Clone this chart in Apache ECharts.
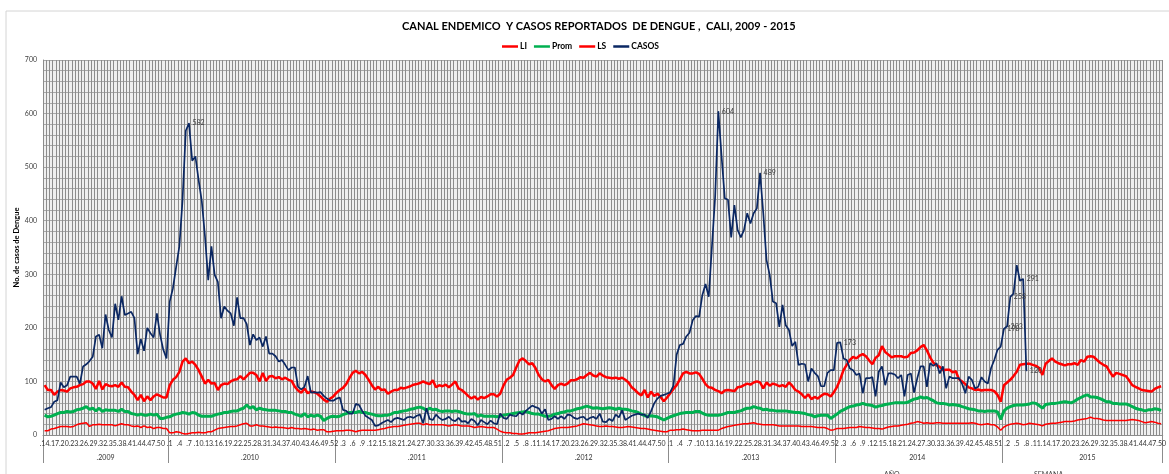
<!DOCTYPE html>
<html>
<head>
<meta charset="utf-8">
<script src="https://cdn.jsdelivr.net/npm/echarts@6/dist/echarts.min.js"></script>
<style>
  html, body { margin: 0; padding: 0; background: #fff; }
  #chart { width: 1169px; height: 474px; }
</style>
</head>
<body>
<div id="chart"></div>
<script>
// semanas epidemiologicas por año
const anios = [2009, 2010, 2011, 2012, 2013, 2014, 2015]
const semanaInicial = [14, 1, 1, 1, 1, 1, 1]
const semanaFinal = [52, 52, 52, 52, 52, 52, 50]
const etiquetasAnio = ['.2009', '.2010', '.2011', '.2012', '.2013', '2014', '2015']

// limite inferior
const li = [
  8, 8, 11, 12, 14, 16, 16, 16, 15, 16, 19, 21, 22, 23, 16, 19, 19, 20, 19, 19, 19, 19, 17, 19, 21, 19, 19, 17, 16, 17, 14, 17, 14, 15, 12, 14, 14, 12, 12,
  4, 4, 6, 5, 3, 2, 3, 4, 4, 5, 4, 4, 6, 6, 9, 12, 13, 14, 15, 16, 16, 17, 19, 21, 22, 17, 17, 19, 17, 17, 16, 15, 14, 15, 14, 14, 13, 12, 14, 12, 12, 11, 12, 11, 10, 11, 9, 10, 10, 6, 6, 7,
  8, 8, 8, 9, 9, 8, 6, 8, 9, 9, 9, 9, 9, 10, 11, 12, 14, 15, 16, 16, 17, 18, 19, 20, 21, 22, 22, 19, 21, 19, 19, 19, 19, 19, 18, 17, 18, 19, 18, 17, 17, 17, 16, 14, 15, 16, 15, 14, 14, 14, 11, 7,
  5, 4, 4, 3, 3, 2, 2, 3, 4, 4, 4, 5, 6, 7, 8, 10, 12, 13, 14, 14, 14, 15, 16, 17, 19, 21, 20, 19, 18, 17, 16, 16, 17, 16, 16, 15, 14, 14, 15, 16, 15, 14, 13, 12, 12, 11, 10, 9, 8, 7, 6, 6,
  9, 9, 10, 10, 11, 10, 9, 8, 8, 8, 9, 9, 9, 9, 9, 9, 12, 14, 16, 17, 18, 19, 20, 21, 21, 22, 23, 21, 20, 19, 19, 19, 19, 18, 17, 17, 17, 17, 17, 17, 17, 16, 16, 16, 16, 15, 14, 14, 14, 12, 9, 10,
  12, 12, 12, 13, 14, 14, 14, 16, 15, 14, 14, 13, 12, 12, 11, 13, 15, 16, 17, 17, 18, 19, 20, 22, 23, 25, 24, 22, 23, 22, 22, 23, 23, 22, 22, 22, 22, 22, 22, 22, 22, 22, 23, 22, 20, 19, 20, 21, 19, 19, 15, 9,
  15, 18, 20, 21, 22, 21, 19, 20, 22, 21, 20, 19, 17, 20, 21, 22, 22, 23, 24, 25, 25, 25, 26, 28, 29, 30, 31, 33, 31, 31, 30, 28, 27, 27, 27, 27, 27, 27, 27, 28, 29, 28, 27, 25, 23, 24, 25, 24, 22, 21
]

// promedio
const prom = [
  37, 34, 35, 37, 40, 42, 42, 44, 43, 44, 47, 48, 50, 53, 48, 50, 45, 50, 44, 47, 46, 46, 46, 44, 48, 44, 44, 40, 39, 37, 39, 37, 37, 39, 37, 39, 31, 31, 33,
  34, 37, 39, 40, 42, 41, 39, 42, 41, 37, 35, 35, 35, 35, 37, 39, 40, 42, 42, 44, 45, 45, 48, 50, 56, 50, 53, 47, 50, 48, 47, 46, 46, 46, 45, 44, 44, 42, 42, 39, 37, 35, 40, 34, 37, 35, 37, 35, 27, 31, 34, 35,
  34, 35, 38, 40, 42, 42, 42, 44, 42, 42, 40, 39, 37, 36, 36, 37, 37, 39, 42, 42, 44, 45, 46, 48, 49, 51, 52, 50, 46, 50, 47, 48, 45, 44, 45, 45, 44, 45, 44, 42, 40, 39, 39, 40, 35, 37, 35, 35, 35, 35, 34, 35,
  37, 38, 39, 40, 41, 42, 43, 44, 42, 40, 39, 39, 37, 35, 35, 36, 39, 40, 42, 43, 45, 45, 47, 49, 50, 52, 54, 52, 50, 51, 50, 49, 50, 51, 50, 48, 50, 48, 48, 47, 45, 44, 42, 39, 36, 35, 36, 35, 34, 31, 28, 31,
  34, 36, 38, 40, 41, 42, 42, 42, 44, 44, 41, 38, 37, 37, 37, 37, 38, 40, 42, 42, 42, 44, 45, 48, 50, 50, 53, 51, 50, 47, 48, 46, 46, 45, 45, 45, 45, 44, 43, 42, 42, 41, 40, 38, 37, 34, 36, 37, 37, 37, 31, 35,
  39, 44, 47, 50, 53, 54, 56, 57, 59, 57, 56, 55, 52, 54, 55, 57, 58, 59, 60, 60, 60, 60, 61, 64, 67, 68, 71, 69, 70, 67, 64, 60, 59, 59, 58, 56, 57, 56, 55, 53, 51, 49, 48, 47, 45, 45, 44, 45, 45, 45, 43, 29,
  45, 50, 53, 55, 56, 56, 56, 57, 58, 60, 59, 55, 50, 57, 58, 59, 59, 60, 61, 62, 61, 60, 63, 67, 70, 73, 75, 71, 71, 70, 68, 65, 62, 62, 59, 59, 58, 58, 58, 56, 53, 50, 48, 47, 45, 47, 47, 49, 48, 46
]

// limite superior
const ls = [
  93, 84, 84, 75, 81, 84, 83, 81, 87, 89, 90, 93, 95, 100, 100, 96, 86, 101, 85, 95, 92, 91, 93, 90, 98, 90, 89, 81, 75, 65, 75, 63, 72, 65, 72, 76, 73, 70, 70,
  93, 103, 108, 118, 137, 143, 134, 137, 131, 121, 109, 96, 103, 96, 97, 84, 93, 96, 95, 100, 103, 104, 110, 104, 110, 116, 116, 112, 100, 116, 101, 109, 110, 106, 108, 104, 107, 103, 101, 90, 83, 79, 87, 78, 81, 80, 77, 72, 66, 62, 68, 72,
  79, 84, 88, 95, 106, 116, 120, 115, 118, 112, 103, 93, 85, 90, 84, 85, 77, 81, 84, 84, 88, 87, 89, 91, 94, 95, 97, 100, 97, 95, 102, 89, 93, 91, 94, 89, 94, 100, 87, 84, 79, 73, 68, 72, 66, 71, 69, 72, 76, 76, 72, 77,
  92, 103, 107, 112, 126, 139, 143, 138, 132, 134, 125, 112, 104, 100, 103, 93, 86, 93, 96, 93, 96, 102, 102, 104, 108, 107, 112, 116, 111, 109, 115, 111, 108, 107, 106, 107, 105, 107, 103, 98, 89, 84, 78, 74, 84, 70, 81, 73, 77, 71, 63, 70,
  78, 86, 93, 104, 115, 118, 115, 115, 117, 114, 105, 95, 89, 88, 84, 82, 78, 83, 84, 83, 82, 89, 90, 93, 96, 94, 98, 100, 98, 87, 98, 92, 96, 94, 91, 93, 90, 98, 92, 84, 81, 76, 69, 76, 67, 71, 68, 73, 77, 76, 72, 80,
  90, 104, 121, 131, 140, 146, 143, 148, 151, 147, 139, 132, 144, 149, 166, 155, 150, 145, 147, 147, 147, 145, 146, 153, 154, 158, 164, 168, 158, 145, 135, 130, 127, 121, 122, 122, 117, 119, 104, 100, 95, 89, 87, 84, 85, 83, 84, 84, 84, 82, 75, 62,
  93, 98, 103, 110, 118, 131, 132, 133, 133, 131, 129, 125, 112, 133, 138, 143, 137, 134, 132, 130, 132, 132, 134, 131, 140, 137, 146, 147, 146, 140, 135, 131, 128, 118, 109, 116, 114, 112, 110, 102, 93, 90, 87, 84, 83, 82, 81, 86, 89, 91
]

// casos reportados (2015 hasta semana 8)
const casos = [
  47, 50, 52, 62, 65, 98, 89, 93, 109, 109, 109, 96, 128, 132, 138, 146, 184, 187, 162, 225, 196, 182, 245, 215, 259, 224, 227, 230, 218, 151, 179, 157, 200, 190, 182, 227, 187, 159, 143,
  249, 274, 314, 352, 439, 568, 582, 512, 520, 476, 436, 370, 289, 352, 299, 286, 218, 240, 232, 227, 204, 257, 218, 218, 207, 168, 188, 177, 182, 165, 184, 152, 152, 147, 137, 140, 131, 121, 126, 126, 90, 85, 90, 110, 79, 80, 79, 80, 73, 68, 64, 64,
  68, 70, 47, 45, 40, 40, 58, 56, 45, 36, 32, 28, 17, 18, 22, 25, 28, 24, 30, 32, 30, 28, 33, 34, 32, 36, 38, 22, 50, 30, 28, 38, 32, 28, 30, 34, 28, 26, 32, 25, 26, 22, 30, 26, 18, 28, 24, 20, 27, 22, 20, 40,
  32, 30, 38, 36, 35, 42, 38, 45, 50, 55, 52, 50, 40, 48, 28, 30, 35, 30, 35, 30, 38, 37, 32, 30, 33, 34, 28, 32, 34, 30, 40, 25, 24, 30, 26, 38, 33, 46, 28, 32, 36, 38, 40, 38, 38, 32, 44, 59, 68, 73, 75, 77,
  80, 92, 150, 168, 170, 184, 191, 214, 222, 221, 261, 282, 258, 352, 445, 604, 520, 442, 439, 369, 429, 383, 369, 383, 414, 395, 414, 423, 489, 414, 327, 299, 249, 246, 202, 243, 205, 196, 166, 174, 131, 133, 132, 100, 124, 116, 110, 91, 91, 116, 121, 121,
  172, 173, 143, 140, 124, 121, 112, 115, 78, 106, 106, 108, 72, 118, 128, 93, 115, 115, 113, 106, 112, 72, 112, 115, 79, 106, 128, 128, 90, 134, 129, 134, 115, 128, 87, 109, 106, 106, 106, 95, 78, 109, 103, 87, 90, 108, 100, 96, 125, 140, 159, 165,
  198, 203, 258, 264, 317, 288, 291, 120
]

// semanas (indice) con el valor rotulado
const casosRotulados = [45, 210, 223, 248, 299, 300, 301, 305, 306]

const semanas = []
const inicioAnio = []
const medioAnio = []
anios.forEach((anio, k) => {
  inicioAnio.push(semanas.length)
  medioAnio.push(semanas.length + Math.floor((semanaFinal[k] - semanaInicial[k]) / 2))
  for (let s = semanaInicial[k]; s <= semanaFinal[k]; s++) semanas.push(anio + '-' + s)
})
medioAnio[6] = inicioAnio[6] + 26

const chart = echarts.init(document.getElementById('chart'))
const fuente = 'Lato, "Liberation Sans", sans-serif'

chart.setOption({
  animation: false,
  backgroundColor: '#fff',
  textStyle: { fontFamily: fuente },
  title: {
    text: 'CANAL ENDEMICO  Y CASOS REPORTADOS  DE DENGUE ,  CALI, 2009 - 2015',
    left: 397,
    top: 16,
    textStyle: { fontSize: 11, fontWeight: 'bold', color: '#000', fontFamily: fuente }
  },
  legend: {
    data: ['LI', 'Prom', 'LS', 'CASOS'],
    top: 37,
    left: 497,
    icon: 'rect',
    itemWidth: 16,
    itemHeight: 2.5,
    itemGap: 7,
    textStyle: { fontSize: 8.5, fontWeight: 'bold', color: '#000', padding: [0, 0, 0, -3] }
  },
  graphic: [
    { type: 'rect', shape: { x: 6, y: 11, width: 1200, height: 500 }, style: { fill: 'none', stroke: '#d4d4d4', lineWidth: 1 }, silent: true },
    { type: 'text', left: 884, top: 471, style: { text: 'AÑO', fontSize: 7, fill: '#404040', fontFamily: fuente } },
    { type: 'text', left: 1034, top: 471, style: { text: 'SEMANA', fontSize: 7, fill: '#404040', fontFamily: fuente } }
  ],
  grid: { left: 43, right: 2, top: 60, bottom: 39, show: true, backgroundColor: '#efefef', borderWidth: 0 },
  xAxis: [
    {
      type: 'category',
      data: semanas,
      boundaryGap: true,
      axisLine: { show: true, lineStyle: { color: '#8c8c8c' } },
      axisTick: { show: true, interval: (i) => inicioAnio.includes(i), length: 28, lineStyle: { color: '#8c8c8c' } },
      axisLabel: {
        interval: 2,
        fontSize: 7,
        color: '#333',
        margin: 5,
        formatter: (v) => '.' + v.split('-')[1]
      },
      splitLine: { show: true, interval: 0, lineStyle: { color: '#8c8c8c', width: 1 } }
    },
    {
      type: 'category',
      data: semanas,
      position: 'bottom',
      offset: 15,
      axisLine: { show: false },
      axisTick: { show: false },
      axisLabel: {
        interval: (i) => medioAnio.includes(i),
        fontSize: 7,
        color: '#333',
        margin: 4,
        formatter: (v) => etiquetasAnio[anios.indexOf(+v.split('-')[0])]
      },
      splitLine: { show: false }
    }
  ],
  yAxis: {
    type: 'value',
    min: 0,
    max: 700,
    interval: 20,
    name: 'No. de casos de Dengue',
    nameLocation: 'middle',
    nameGap: 22,
    nameMoveOverlap: false,
    nameTextStyle: { fontSize: 7.5, fontWeight: 'bold', color: '#000' },
    axisLine: { show: true, lineStyle: { color: '#8c8c8c' } },
    axisTick: { show: false },
    axisLabel: { fontSize: 7, color: '#404040', margin: 6, formatter: (v) => (v % 100 === 0 ? v : '') },
    splitLine: { show: true, lineStyle: { color: '#a8a8a8', width: 1 } }
  },
  series: [
    {
      name: 'LI',
      type: 'line',
      data: li,
      symbol: 'none',
      itemStyle: { color: '#ff0000' },
      lineStyle: { color: '#ff0000', width: 1.5 }
    },
    {
      name: 'Prom',
      type: 'line',
      data: prom,
      symbol: 'none',
      itemStyle: { color: '#00b050' },
      lineStyle: { color: '#00b050', width: 3 }
    },
    {
      name: 'LS',
      type: 'line',
      data: ls,
      symbol: 'none',
      itemStyle: { color: '#ff0000' },
      lineStyle: { color: '#ff0000', width: 2.5 }
    },
    {
      name: 'CASOS',
      type: 'line',
      data: casos.map((v, i) => (casosRotulados.includes(i)
        ? { value: v, symbol: 'circle', symbolSize: 1, label: { show: true } }
        : v)),
      symbol: 'none',
      showAllSymbol: true,
      itemStyle: { color: '#0a2763' },
      lineStyle: { color: '#0a2763', width: 1.7 },
      label: { show: false, position: 'right', distance: 3, fontSize: 7, color: '#404040' },
      labelLayout: { hideOverlap: false }
    }
  ]
})
</script>
</body>
</html>
